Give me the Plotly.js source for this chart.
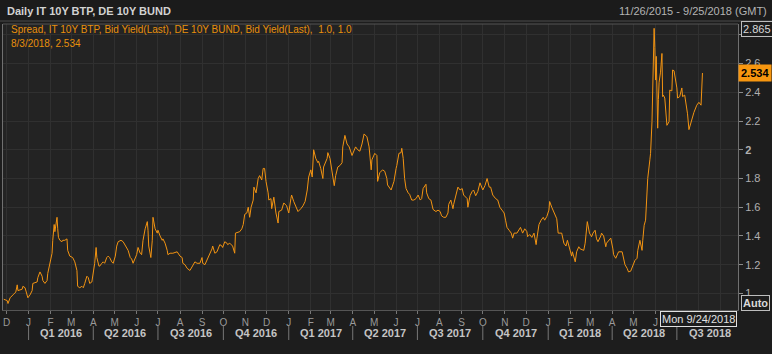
<!DOCTYPE html>
<html>
<head>
<meta charset="utf-8">
<script src="https://cdn.plot.ly/plotly-3.0.1.min.js"></script>
<style>
  html, body { margin: 0; padding: 0; background: #1d1d1d; }
  #chart { width: 772px; height: 354px; }
</style>
</head>
<body>
<div id="chart"></div>
<script>
// ---- Data ----
const dates = [
"2015-11-27","2015-12-02","2015-12-03","2015-12-06","2015-12-10","2015-12-14","2015-12-16","2015-12-17","2015-12-23","2015-12-24",
"2015-12-27","2015-12-30","2015-12-31","2016-01-03","2016-01-06","2016-01-07","2016-01-13","2016-01-14","2016-01-17","2016-01-20",
"2016-01-21","2016-01-24","2016-01-27","2016-01-28","2016-01-31","2016-02-03","2016-02-04","2016-02-06","2016-02-07","2016-02-10",
"2016-02-11","2016-02-12","2016-02-14","2016-02-17","2016-02-18","2016-02-21","2016-02-24","2016-02-25","2016-02-28","2016-03-03",
"2016-03-06","2016-03-09","2016-03-10","2016-03-13","2016-03-16","2016-03-18","2016-03-20","2016-03-23","2016-03-25","2016-03-27",
"2016-03-30","2016-04-01","2016-04-03","2016-04-05","2016-04-06","2016-04-09","2016-04-10","2016-04-13","2016-04-15","2016-04-17",
"2016-04-20","2016-04-22","2016-04-24","2016-04-27","2016-04-29","2016-05-02","2016-05-04","2016-05-06","2016-05-10","2016-05-13",
"2016-05-17","2016-05-20","2016-05-23","2016-05-25","2016-05-27","2016-05-30","2016-06-01","2016-06-03","2016-06-06","2016-06-08",
"2016-06-10","2016-06-13","2016-06-16","2016-06-17","2016-06-18","2016-06-21","2016-06-23","2016-06-24","2016-06-27","2016-06-30",
"2016-07-01","2016-07-04","2016-07-07","2016-07-08","2016-07-11","2016-07-14","2016-07-15","2016-07-18","2016-07-22","2016-07-28",
"2016-08-01","2016-08-04","2016-08-05","2016-08-08","2016-08-11","2016-08-15","2016-08-19","2016-08-22","2016-08-25","2016-08-29",
"2016-09-01","2016-09-02","2016-09-05","2016-09-09","2016-09-12","2016-09-15","2016-09-16","2016-09-19","2016-09-22","2016-09-23",
"2016-09-26","2016-09-29","2016-09-30","2016-10-03","2016-10-06","2016-10-07","2016-10-10","2016-10-14","2016-10-17","2016-10-18",
"2016-10-22","2016-10-24","2016-10-27","2016-10-29","2016-10-31","2016-11-03","2016-11-05","2016-11-07","2016-11-09","2016-11-12",
"2016-11-13","2016-11-16","2016-11-19","2016-11-21","2016-11-24","2016-11-26","2016-11-28","2016-11-30","2016-12-03","2016-12-04",
"2016-12-07","2016-12-08","2016-12-11","2016-12-14","2016-12-17","2016-12-18","2016-12-22","2016-12-25","2016-12-29","2017-01-01",
"2017-01-04","2017-01-05","2017-01-08","2017-01-11","2017-01-14","2017-01-18","2017-01-21","2017-01-24","2017-01-27","2017-01-29",
"2017-02-01","2017-02-03","2017-02-05","2017-02-08","2017-02-11","2017-02-12","2017-02-15","2017-02-18","2017-02-19","2017-02-24",
"2017-02-25","2017-02-28","2017-03-03","2017-03-06","2017-03-08","2017-03-11","2017-03-14","2017-03-17","2017-03-18","2017-03-21",
"2017-03-24","2017-03-27","2017-03-31","2017-04-03","2017-04-05","2017-04-08","2017-04-11","2017-04-14","2017-04-17","2017-04-21",
"2017-04-24","2017-04-27","2017-04-28","2017-05-02","2017-05-05","2017-05-06","2017-05-09","2017-05-13","2017-05-16","2017-05-19",
"2017-05-20","2017-05-25","2017-05-26","2017-05-29","2017-06-01","2017-06-02","2017-06-05","2017-06-08","2017-06-09","2017-06-11",
"2017-06-13","2017-06-15","2017-06-18","2017-06-20","2017-06-23","2017-06-26","2017-06-29","2017-07-02","2017-07-05","2017-07-07",
"2017-07-09","2017-07-13","2017-07-14","2017-07-17","2017-07-20","2017-07-23","2017-07-27","2017-07-30","2017-08-02","2017-08-04",
"2017-08-07","2017-08-10","2017-08-13","2017-08-14","2017-08-17","2017-08-20","2017-08-21","2017-08-24","2017-08-27","2017-08-30",
"2017-09-02","2017-09-04","2017-09-09","2017-09-10","2017-09-13","2017-09-16","2017-09-18","2017-09-21","2017-09-24","2017-09-27",
"2017-09-30","2017-10-01","2017-10-04","2017-10-07","2017-10-10","2017-10-12","2017-10-15","2017-10-19","2017-10-22","2017-10-25",
"2017-10-28","2017-10-31","2017-11-02","2017-11-04","2017-11-07","2017-11-10","2017-11-12","2017-11-14","2017-11-18","2017-11-21",
"2017-11-23","2017-11-26","2017-11-29","2017-12-02","2017-12-03","2017-12-06","2017-12-09","2017-12-12","2017-12-15","2017-12-16",
"2017-12-19","2017-12-22","2017-12-25","2017-12-27","2017-12-30","2018-01-02","2018-01-03","2018-01-06","2018-01-08","2018-01-10",
"2018-01-13","2018-01-15","2018-01-19","2018-01-20","2018-01-23","2018-01-26","2018-01-28","2018-01-31","2018-02-03","2018-02-04",
"2018-02-08","2018-02-10","2018-02-13","2018-02-15","2018-02-20","2018-02-22","2018-02-24","2018-02-25","2018-02-28","2018-03-03",
"2018-03-05","2018-03-08","2018-03-10","2018-03-12","2018-03-16","2018-03-17","2018-03-20","2018-03-23","2018-03-24","2018-03-27",
"2018-03-30","2018-04-02","2018-04-03","2018-04-06","2018-04-09","2018-04-10","2018-04-15","2018-04-16","2018-04-19","2018-04-22",
"2018-04-24","2018-04-27","2018-04-30","2018-05-03","2018-05-06","2018-05-07","2018-05-10","2018-05-13","2018-05-14","2018-05-16",
"2018-05-18","2018-05-20","2018-05-21","2018-05-24","2018-05-25","2018-05-27","2018-05-28","2018-05-29","2018-05-30","2018-05-31",
"2018-06-01","2018-06-02","2018-06-03","2018-06-04","2018-06-05","2018-06-06","2018-06-08","2018-06-10","2018-06-11","2018-06-12",
"2018-06-14","2018-06-16","2018-06-17","2018-06-20","2018-06-21","2018-06-24","2018-06-25","2018-06-27","2018-06-30","2018-07-01",
"2018-07-02","2018-07-05","2018-07-08","2018-07-09","2018-07-12","2018-07-15","2018-07-16","2018-07-18","2018-07-21","2018-07-22",
"2018-07-25","2018-07-29","2018-08-01","2018-08-04","2018-08-05","2018-08-06"
];
const spread = [
0.96,0.95,0.93,0.97,0.99,1.01,1.06,1.02,1.03,1.05,
1.04,0.98,0.97,0.99,1.02,1.07,1.08,1.11,1.15,1.12,
1.09,1.07,1.09,1.14,1.20,1.28,1.37,1.48,1.43,1.53,
1.45,1.39,1.37,1.36,1.37,1.37,1.38,1.30,1.26,1.25,
1.22,1.16,1.05,1.04,1.05,1.04,1.07,1.12,1.11,1.07,
1.08,1.15,1.21,1.32,1.25,1.19,1.19,1.21,1.22,1.21,
1.25,1.26,1.25,1.22,1.21,1.26,1.33,1.36,1.37,1.36,
1.33,1.30,1.25,1.24,1.21,1.25,1.27,1.32,1.28,1.27,
1.37,1.45,1.50,1.44,1.33,1.25,1.37,1.53,1.45,1.42,
1.44,1.40,1.37,1.38,1.35,1.30,1.27,1.28,1.28,1.29,
1.26,1.25,1.21,1.20,1.175,1.16,1.19,1.22,1.21,1.21,
1.25,1.21,1.20,1.24,1.27,1.31,1.33,1.28,1.29,1.30,
1.34,1.33,1.32,1.36,1.35,1.34,1.35,1.33,1.28,1.42,
1.43,1.43,1.45,1.48,1.55,1.56,1.60,1.53,1.60,1.65,
1.74,1.70,1.80,1.82,1.79,1.87,1.87,1.78,1.70,1.65,
1.66,1.59,1.67,1.56,1.49,1.57,1.58,1.63,1.61,1.56,
1.66,1.685,1.64,1.60,1.57,1.59,1.61,1.64,1.72,1.81,
1.86,1.81,2.00,1.94,1.91,1.92,1.87,1.80,1.88,1.94,
1.98,1.94,1.85,1.75,1.82,1.88,1.89,1.91,2.02,2.10,
2.04,2.02,1.96,1.99,2.02,2.00,1.99,2.04,2.11,2.09,
2.02,1.86,1.93,1.975,1.96,1.78,1.84,1.86,1.85,1.80,
1.755,1.72,1.74,1.78,1.87,1.89,1.975,1.98,2.01,1.94,
1.80,1.73,1.70,1.69,1.65,1.65,1.66,1.685,1.65,1.66,
1.73,1.76,1.70,1.66,1.65,1.585,1.57,1.58,1.57,1.54,
1.53,1.53,1.56,1.62,1.65,1.59,1.62,1.685,1.74,1.72,
1.73,1.685,1.66,1.60,1.68,1.71,1.72,1.68,1.71,1.77,
1.74,1.72,1.75,1.80,1.74,1.74,1.685,1.66,1.65,1.60,
1.58,1.56,1.51,1.46,1.44,1.42,1.385,1.42,1.42,1.45,
1.46,1.42,1.45,1.43,1.395,1.41,1.39,1.42,1.34,1.38,
1.48,1.51,1.53,1.51,1.535,1.58,1.64,1.60,1.58,1.56,
1.52,1.42,1.42,1.42,1.35,1.33,1.37,1.32,1.26,1.29,
1.22,1.29,1.325,1.31,1.30,1.35,1.465,1.50,1.42,1.395,
1.42,1.44,1.38,1.36,1.40,1.42,1.40,1.325,1.35,1.37,
1.385,1.31,1.27,1.245,1.28,1.29,1.29,1.27,1.20,1.175,
1.15,1.155,1.20,1.23,1.245,1.30,1.37,1.30,1.37,1.475,
1.51,1.72,1.80,1.93,1.975,2.195,2.46,2.69,2.845,2.71,
2.485,2.65,2.46,2.15,2.35,2.47,2.54,2.67,2.37,2.38,
2.36,2.25,2.17,2.195,2.415,2.41,2.555,2.55,2.45,2.43,
2.36,2.37,2.43,2.37,2.38,2.30,2.25,2.14,2.195,2.22,
2.26,2.31,2.33,2.31,2.51,2.534
];
const headerTitle = "Daily IT 10Y BTP, DE 10Y BUND";
const headerRange = "11/26/2015 - 9/25/2018 (GMT)";
const seriesName = "Spread, IT 10Y BTP, Bid Yield(Last), DE 10Y BUND, Bid Yield(Last),  1.0, 1.0";
const lastLabel = "8/3/2018, 2.534";
const maxLabel = "2.865";
const cursorLabel = "Mon 9/24/2018";
const yTickVals = [1, 1.2, 1.4, 1.6, 1.8, 2, 2.2, 2.4, 2.6, 2.8];
const yTickText = ["1", "1.2", "1.4", "1.6", "1.8", "<b>2</b>", "2.2", "2.4", "2.6", ""];
const xStart = "2015-11-26", xEnd = "2018-09-25";
const monthLetters = "JFMAMJJASOND";
const lastLabelledMonth = "2018-06-01"; // later month letters sit under the cursor-date box

// ---- Month ticks & quarter labels ----
const monthTickVals = [], monthTickText = [];
for (let y = 2015, m = 11; y < 2018 || (y === 2018 && m <= 8); ) {
  const v = `${y}-${String(m + 1).padStart(2, "0")}-01`;
  monthTickVals.push(v);
  monthTickText.push(v <= lastLabelledMonth ? monthLetters[m] : "");
  m++; if (m > 11) { m = 0; y++; }
}
const quarters = [];
for (let y = 2016; y <= 2018; y++) {
  for (let q = 0; q < 4; q++) {
    if (y === 2018 && q > 2) break;
    const s = new Date(Date.UTC(y, q * 3, 1));
    const e = new Date(Date.UTC(y, q * 3 + 3, 1));
    const mid = new Date((s.getTime() + e.getTime()) / 2);
    quarters.push({ start: s.toISOString().slice(0, 10), mid: mid.toISOString().slice(0, 10), label: `Q${q + 1} ${y}` });
  }
}

const W = 772, H = 354, ML = 3, MR = 34, MT = 24, MB = 44;
const plotH = H - MT - MB;
const pyPaper = px => (H - MB - px) / plotH;   // pixel row -> paper y
const pxPaper = px => (px - ML) / (W - ML - MR); // pixel col -> paper x

const FONT = "Liberation Sans, Arial, sans-serif";

const annotations = [
  { xref: "paper", yref: "paper", x: pxPaper(5), y: pyPaper(11), xanchor: "left", yanchor: "middle",
    text: "<b>" + headerTitle + "</b>", showarrow: false, font: { family: FONT, size: 11, color: "#d2d2d2" } },
  { xref: "paper", yref: "paper", x: pxPaper(769), y: pyPaper(11), xanchor: "right", yanchor: "middle",
    text: headerRange, showarrow: false, font: { family: FONT, size: 11, color: "#b4b4b4" } },
  { xref: "paper", yref: "paper", x: pxPaper(9), y: pyPaper(30), xanchor: "left", yanchor: "middle",
    text: seriesName, showarrow: false, font: { family: FONT, size: 10, color: "#e8900c" } },
  { xref: "paper", yref: "paper", x: pxPaper(9), y: pyPaper(43), xanchor: "left", yanchor: "middle",
    text: lastLabel, showarrow: false, font: { family: FONT, size: 10, color: "#e8900c" } },
  { xref: "paper", yref: "paper", x: pxPaper(375), y: pyPaper(88), xanchor: "center", yanchor: "middle",
    text: "<b>REUTERS</b>", showarrow: false, font: { family: FONT, size: 30, color: "rgba(255,255,255,0.022)" } },
  { xref: "paper", yref: "paper", x: pxPaper(741), y: pyPaper(29), xanchor: "left", yanchor: "middle",
    text: maxLabel, showarrow: false, bgcolor: "#1d1d1d", bordercolor: "#bdbdbd", borderwidth: 1, borderpad: 1,
    font: { family: FONT, size: 11, color: "#d8d8d8" } },
  { xref: "paper", yref: "y", x: pxPaper(738), y: spread[spread.length - 1], xanchor: "left", yanchor: "middle",
    text: "<b>" + spread[spread.length - 1].toFixed(3) + "</b>", showarrow: false, bgcolor: "#f7960f", borderpad: 2,
    font: { family: FONT, size: 11, color: "#000000" } },
  { xref: "paper", yref: "paper", x: pxPaper(741), y: pyPaper(303), xanchor: "left", yanchor: "middle",
    text: "<b>Auto</b>", showarrow: false, bgcolor: "#1d1d1d", bordercolor: "#bdbdbd", borderwidth: 1, borderpad: 1,
    font: { family: FONT, size: 11, color: "#d8d8d8" } },
  { xref: "paper", yref: "paper", x: pxPaper(737), y: pyPaper(318.5), xanchor: "right", yanchor: "middle",
    text: cursorLabel, showarrow: false, bgcolor: "#1d1d1d", bordercolor: "#e0e0e0", borderwidth: 1, borderpad: 1,
    font: { family: FONT, size: 11, color: "#e0e0e0" } }
];
quarters.forEach(q => annotations.push({
  xref: "x", yref: "paper", x: q.mid, y: pyPaper(333), xanchor: "center", yanchor: "middle",
  text: "<b>" + q.label + "</b>", showarrow: false, font: { family: FONT, size: 11, color: "#c4c4c4" }
}));

const shapes = [
  { type: "rect", xref: "paper", yref: "paper", x0: pxPaper(0), x1: pxPaper(W), y0: pyPaper(0), y1: pyPaper(21),
    fillcolor: "#1b1b1b", line: { width: 0 }, layer: "below" },
  { type: "line", xref: "paper", yref: "paper", x0: pxPaper(0), x1: pxPaper(W), y0: pyPaper(21), y1: pyPaper(21),
    line: { color: "#4d4d4d", width: 1 } },
  { type: "line", xref: "paper", yref: "paper", x0: 0, x1: 1, y0: 1, y1: 1,
    line: { color: "#555555", width: 1 } }
];
quarters.forEach(q => shapes.push({
  type: "line", xref: "x", yref: "paper", x0: q.start, x1: q.start, y0: pyPaper(326), y1: pyPaper(340),
  line: { color: "#777777", width: 1 }
}));

const trace = {
  type: "scatter", mode: "lines", x: dates, y: spread,
  line: { color: "#f39412", width: 1 }, hoverinfo: "skip"
};

const layout = {
  width: W, height: H,
  margin: { l: ML, r: MR, t: MT, b: MB, pad: 0 },
  paper_bgcolor: "#1d1d1d", plot_bgcolor: "#232323",
  showlegend: false,
  xaxis: {
    type: "date", range: [xStart, xEnd],
    tickmode: "array", tickvals: monthTickVals, ticktext: monthTickText,
    ticks: "outside", ticklen: 3, tickcolor: "#777777",
    tickfont: { family: FONT, size: 10, color: "#9a9a9a" },
    showgrid: true, gridcolor: "#303030", gridwidth: 1,
    showline: true, linecolor: "#555555", mirror: false, zeroline: false
  },
  yaxis: {
    side: "right", range: [0.885, 2.875],
    tickmode: "array", tickvals: yTickVals, ticktext: yTickText,
    ticks: "outside", ticklen: 4, tickcolor: "#8a8a8a",
    tickfont: { family: FONT, size: 11, color: "#b0b0b0" },
    showgrid: true, gridcolor: "#303030", gridwidth: 1,
    showline: true, linecolor: "#707070", mirror: true, zeroline: false
  },
  annotations: annotations,
  shapes: shapes
};

Plotly.newPlot("chart", [trace], layout, { displayModeBar: false, staticPlot: true });
</script>
</body>
</html>
